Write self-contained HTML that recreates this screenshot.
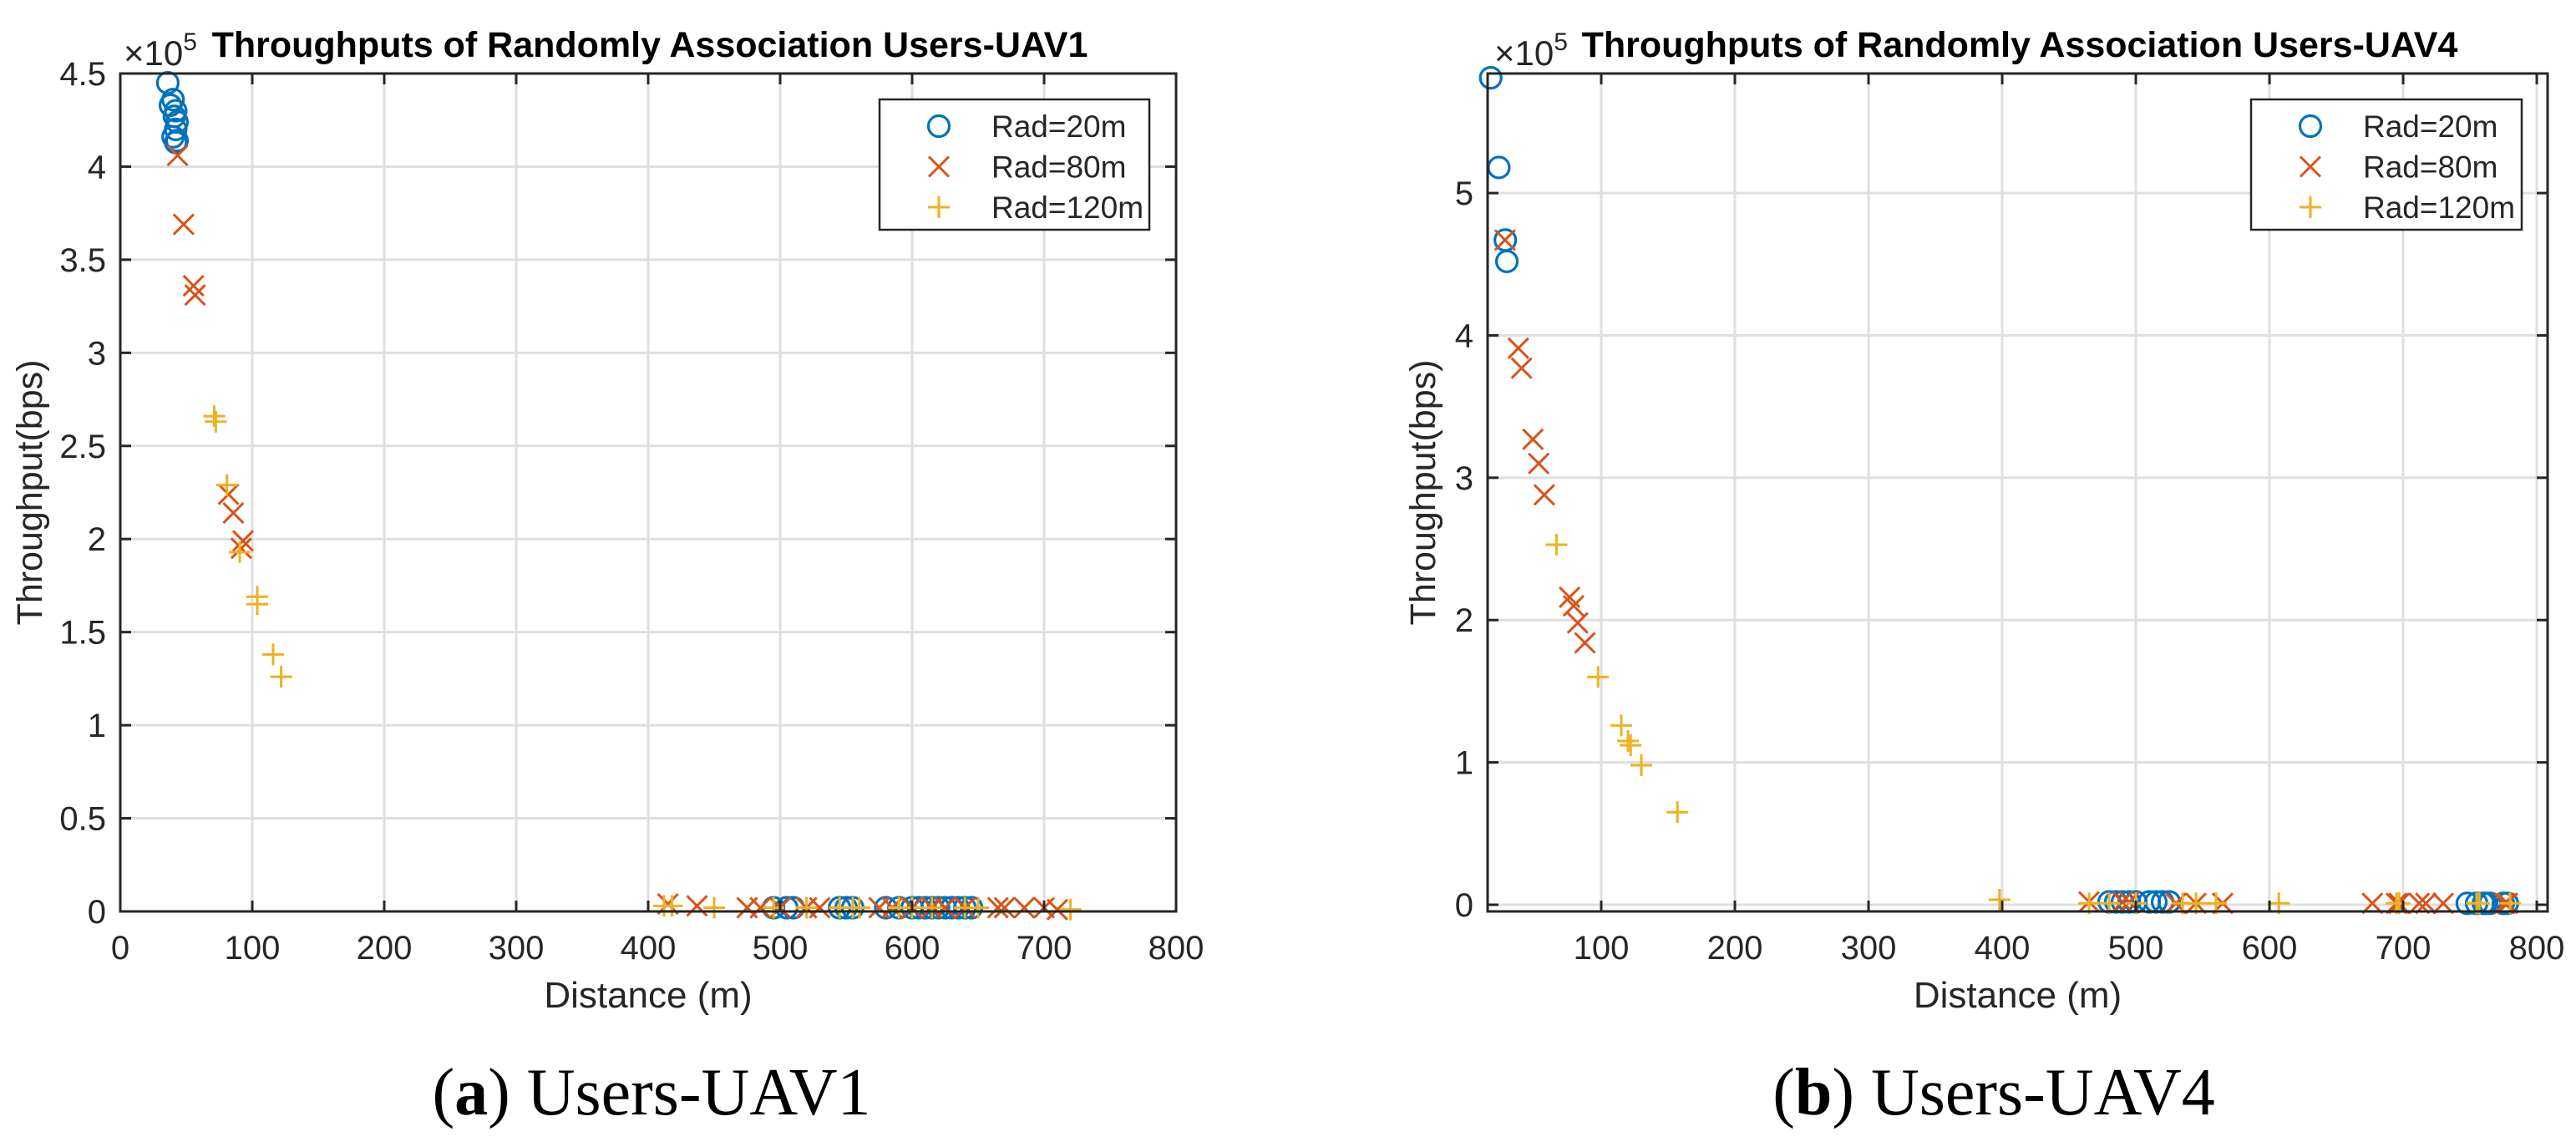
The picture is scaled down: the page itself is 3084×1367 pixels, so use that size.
<!DOCTYPE html>
<html><head><meta charset="utf-8"><style>
html,body{margin:0;padding:0;background:#fff}
svg{display:block}
text{font-family:"Liberation Sans",sans-serif;fill:#262626}
</style></head><body>
<svg id="fig" width="3084" height="1367" viewBox="0 0 3084 1367" xmlns="http://www.w3.org/2000/svg"></svg>
<script>
// ---- Data: panel (a) Users-UAV1 ----
const a_r20_x = [36,38,40,42,41,43,42,40,43,42, 495,505,510,545,550,555,580,590,600,605,610,615,620,625,630,635,640,645];
const a_r20_y = [4.45,4.33,4.36,4.30,4.27,4.24,4.20,4.16,4.14,4.13, 0.02,0.02,0.02,0.02,0.02,0.02,0.02,0.02,0.02,0.02,0.02,0.02,0.02,0.02,0.02,0.02,0.02,0.02];
const a_r80_x = [43.4,48,55.5,56.7,82,85.7,93,91.7, 415,437,475,485,500,520,530,575,585,600,615,625,640,665,670,685,700,710];
const a_r80_y = [4.06,3.69,3.36,3.31,2.24,2.14,1.99,1.95, 0.04,0.03,0.02,0.02,0.02,0.02,0.02,0.02,0.02,0.02,0.02,0.02,0.02,0.02,0.02,0.02,0.02,0.01];
const a_r120_x = [71.2,72.4,80.8,90.5,103.8,103.8,115.8,121.9, 412,418,450,495,520,545,555,560,590,600,615,640,650,720];
const a_r120_y = [2.66,2.63,2.29,1.93,1.69,1.65,1.38,1.26, 0.03,0.03,0.02,0.02,0.02,0.02,0.02,0.02,0.02,0.02,0.02,0.02,0.02,0.01];
// ---- Data: panel (b) Users-UAV4 ----
const b_r20_x = [17.3,23.4,28.2,29.4, 480,485,490,495,500,510,515,520,525, 748,755,760,762,765,775,778];
const b_r20_y = [5.81,5.18,4.67,4.52, 0.02,0.02,0.02,0.02,0.02,0.02,0.02,0.02,0.02, 0.01,0.01,0.01,0.01,0.01,0.01,0.01];
const b_r80_x = [28,38,40.4,48.9,53.2,57.4,76.3,79.3,82.4,87.8, 465,490,495,530,545,565,677,695,697,712,717,730,776,778];
const b_r80_y = [4.67,3.91,3.77,3.27,3.10,2.88,2.16,2.10,1.98,1.84, 0.02,0.02,0.02,0.01,0.01,0.01,0.01,0.01,0.01,0.01,0.01,0.01,0.01,0.01];
const b_r120_x = [66.5,97.6,115,120,122,130,157, 398,465,480,500,535,545,560,607,695,697,755,757,780];
const b_r120_y = [2.53,1.60,1.26,1.15,1.12,0.98,0.65, 0.035,0.01,0.01,0.01,0.01,0.01,0.01,0.01,0.01,0.01,0.01,0.01,0.01];
const xTicks = [0,100,200,300,400,500,600,700,800];
const a_yTicks = [0,0.5,1,1.5,2,2.5,3,3.5,4,4.5];
const a_yLabels = ["0","0.5","1","1.5","2","2.5","3","3.5","4","4.5"];
const b_yTicks = [0,1,2,3,4,5];
const legendLabels = ["Rad=20m","Rad=80m","Rad=120m"];

const NS="http://www.w3.org/2000/svg";
const svg=document.getElementById('fig');
function mk(tag,attrs,parent){const e=document.createElementNS(NS,tag);for(const k in attrs)e.setAttribute(k,attrs[k]);(parent||svg).appendChild(e);return e;}
const COL=["#0072BD","#D95319","#EDB120"];

function marker(g,kind,px,py){
  let m;
  if(kind===0){m=mk('circle',{cx:px,cy:py,r:12.5,fill:'none',stroke:COL[0],'stroke-width':3.2},g);}
  else if(kind===1){const s=12;m=mk('path',{d:`M${px-s},${py-s}L${px+s},${py+s}M${px-s},${py+s}L${px+s},${py-s}`,stroke:COL[1],'stroke-width':3,fill:'none'},g);}
  else {const s=13;m=mk('path',{d:`M${px-s},${py}L${px+s},${py}M${px},${py-s}L${px},${py+s}`,stroke:COL[2],'stroke-width':3,fill:'none'},g);}
  return m;
}

function panel(p){
  const g=mk('g',{});
  
  
  const X=v=>p.L+(v-p.xmin)/(p.xmax-p.xmin)*(p.R-p.L);
  const Y=v=>p.B-(v-p.ymin)/(p.ymax-p.ymin)*(p.B-p.T);
  xTicks.forEach(t=>{if(t>=p.xmin&&t<=p.xmax){const l=mk('line',{x1:X(t),x2:X(t),y1:p.T,y2:p.B,stroke:'#dfdfdf','stroke-width':3},g);
    }});
  p.yTicks.forEach(t=>{const l=mk('line',{x1:p.L,x2:p.R,y1:Y(t),y2:Y(t),stroke:'#dfdfdf','stroke-width':3},g);
    });
  const series=[[p.s[0],p.s[1]],[p.s[2],p.s[3]],[p.s[4],p.s[5]]];
  series.forEach((s,k)=>{
    const sg=mk('g',{},g);
    
    
    s[0].forEach((xv,i)=>{const m=marker(sg,k,X(xv),Y(s[1][i]));
      
      });
  });
  const bx=mk('rect',{x:p.L,y:p.T,width:p.R-p.L,height:p.B-p.T,fill:'none',stroke:'#262626','stroke-width':3},g);
  
  xTicks.forEach(t=>{if(t>=p.xmin&&t<=p.xmax){const x=X(t);
    mk('line',{x1:x,x2:x,y1:p.B,y2:p.B-13,stroke:'#262626','stroke-width':3},g);
    mk('line',{x1:x,x2:x,y1:p.T,y2:p.T+13,stroke:'#262626','stroke-width':3},g);
    const tx=mk('text',{x:x,y:p.B+57,'font-size':40,'text-anchor':'middle'},g);tx.textContent=t;
    }});
  p.yTicks.forEach((t,i)=>{const y=Y(t);
    mk('line',{x1:p.L,x2:p.L+13,y1:y,y2:y,stroke:'#262626','stroke-width':3},g);
    mk('line',{x1:p.R,x2:p.R-13,y1:y,y2:y,stroke:'#262626','stroke-width':3},g);
    const tx=mk('text',{x:p.L-17,y:y+14,'font-size':40,'text-anchor':'end'},g);tx.textContent=p.yLabels[i];
    });
  const ex=mk('text',{x:p.L+(p.expDx||0),y:p.T-10,'font-size':42},g);
  ex.innerHTML='×10<tspan dy="-18" font-size="30">5</tspan>';
  
  const ti=mk('text',{x:p.titleX,y:p.T-20,'font-size':43,'font-weight':'bold','text-anchor':'middle',style:'fill:#000'},g);
  ti.textContent=p.title;
  const xl=mk('text',{x:(p.L+p.R)/2,y:p.B+115,'font-size':44,'text-anchor':'middle'},g);
  xl.textContent='Distance (m)';
  const yl=mk('text',{x:0,y:0,'font-size':43,'text-anchor':'middle',transform:`translate(${p.ylX},${(p.T+p.B)/2}) rotate(-90)`},g);
  yl.textContent='Throughput(bps)';
  const lg=mk('g',{},g);
  mk('rect',{x:p.legX,y:119,width:p.legW,height:156,fill:'#fff',stroke:'#262626','stroke-width':2.5},lg);
  legendLabels.forEach((lab,k)=>{const yy=151+k*48.5;
    const m=marker(lg,k,p.legX+71,yy);
    const t=mk('text',{x:p.legX+134,y:yy+13,'font-size':37},lg);t.textContent=lab;
    });
  const cap=mk('text',{x:p.capX,y:1334,'font-size':80,'text-anchor':'middle',style:'font-family:"Liberation Serif",serif;fill:#000'},g);
  cap.innerHTML=`(<tspan font-weight="bold">${p.capL}</tspan>) ${p.capT}`;
  
}

panel({name:'panel-a-uav1',L:144,R:1408,T:88,B:1091,xmin:0,xmax:800,ymin:0,ymax:4.5,
  yTicks:a_yTicks,yLabels:a_yLabels,s:[a_r20_x,a_r20_y,a_r80_x,a_r80_y,a_r120_x,a_r120_y],
  title:'Throughputs of Randomly Association Users-UAV1',titleX:778,ylX:50,legX:1053,legW:323,
  capX:780,capL:'a',capT:'Users-UAV1',expDx:4});
panel({name:'panel-b-uav4',L:1781,R:3050,T:88,B:1091,xmin:15,xmax:808.1,ymin:-0.047,ymax:5.84,
  yTicks:b_yTicks,yLabels:b_yTicks.map(String),s:[b_r20_x,b_r20_y,b_r80_x,b_r80_y,b_r120_x,b_r120_y],
  title:'Throughputs of Randomly Association Users-UAV4',titleX:2418,ylX:1718,legX:2695,legW:324,
  capX:2387,capL:'b',capT:'Users-UAV4',expDx:8});
</script>
</body></html>
